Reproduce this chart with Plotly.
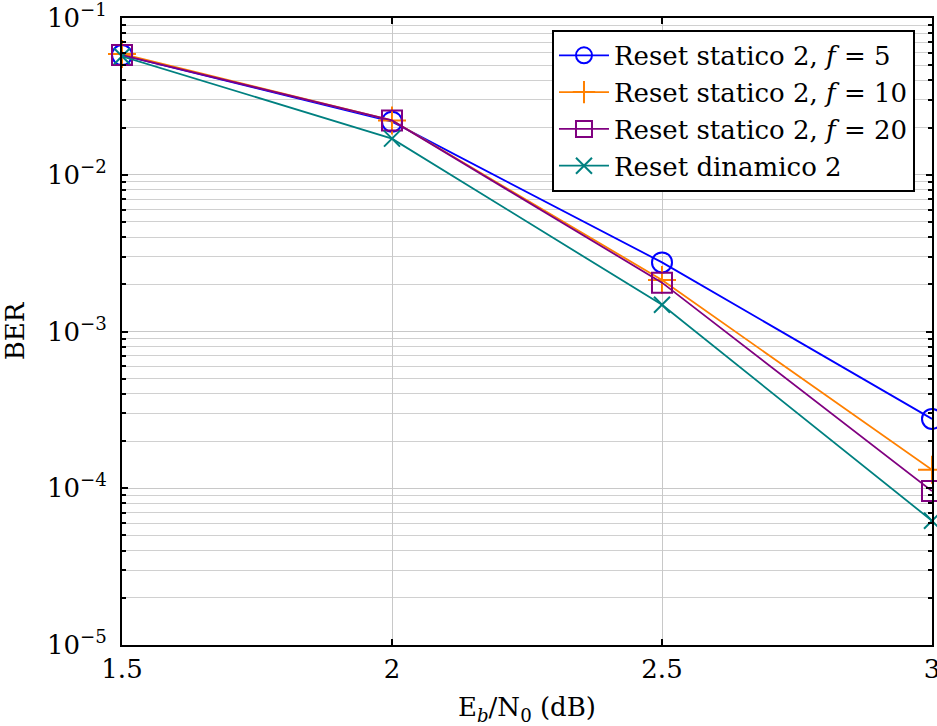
import plotly.graph_objects as go

x_vals = [1.5, 2.0, 2.5, 3.0]
ber_static_f5 = [0.058, 0.0218, 0.00276, 0.000277]
ber_static_f10 = [0.059, 0.0222, 0.00213, 0.000131]
ber_static_f20 = [0.058, 0.0222, 0.00205, 0.000096]
ber_dynamic = [0.057, 0.0170, 0.00148, 0.000062]

names = ["Reset statico 2, <i>f</i> = 5", "Reset statico 2, <i>f</i> = 10",
         "Reset statico 2, <i>f</i> = 20", "Reset dinamico 2"]
colors = ["#0000ff", "#ff8000", "#800080", "#008080"]
symbols = ["circle-open", "cross-thin-open", "square-open", "x-thin-open"]
sizes = [20, 20, 20, 16]
series = [ber_static_f5, ber_static_f10, ber_static_f20, ber_dynamic]

ytick_vals = [1e-5, 1e-4, 1e-3, 1e-2, 1e-1]
ytick_text = ["10<sup>−5</sup>", "10<sup>−4</sup>", "10<sup>−3</sup>", "10<sup>−2</sup>", "10<sup>−1</sup>"]
xtick_vals = [1.5, 2, 2.5, 3]
xtick_text = ["1.5", "2", "2.5", "3"]

minor_vals = [m * 10.0 ** e for e in range(-5, -1) for m in range(2, 10)]

fig = go.Figure()
for name, c, s, sz, y in zip(names, colors, symbols, sizes, series):
    fig.add_trace(go.Scatter(
        x=x_vals, y=y, name=name, mode="lines+markers",
        line=dict(color=c, width=1.8),
        marker=dict(symbol=s, size=sz, color=c, line=dict(color=c, width=2)),
        cliponaxis=False,
    ))

font = "DejaVu Serif"
fs = 26
fig.update_layout(
    width=937, height=726,
    margin=dict(l=122, r=5, t=18, b=81),
    paper_bgcolor="white", plot_bgcolor="white",
    font=dict(family=font, size=fs, color="black"),
    showlegend=True,
    legend=dict(x=0.979, y=0.981, xanchor="right", yanchor="top",
                bgcolor="white", bordercolor="black", borderwidth=2,
                font=dict(family=font, size=fs), tracegroupgap=0,
                itemwidth=50),
    xaxis=dict(range=[1.5, 3], tickvals=xtick_vals, ticktext=xtick_text,
               automargin=False, ticklabeloverflow="allow",
               showgrid=True, gridcolor="#c8c8c8", gridwidth=1,
               showline=True, linecolor="black", linewidth=2, mirror="allticks",
               ticks="inside", ticklen=6, tickcolor="black", tickwidth=1.5,
               zeroline=False, tickfont=dict(size=fs),
               title=dict(text="E<sub><i>b</i></sub>/N<sub>0</sub> (dB)", font=dict(size=fs))),
    yaxis=dict(type="log", range=[-5, -1], tickvals=ytick_vals, ticktext=ytick_text,
               automargin=False, ticklabeloverflow="allow",
               showgrid=True, gridcolor="#c8c8c8", gridwidth=1,
               showline=True, linecolor="black", linewidth=2, mirror="allticks",
               ticks="inside", ticklen=6, tickcolor="black", tickwidth=1.5,
               zeroline=False, tickfont=dict(size=fs), ticklabelstandoff=8,
               minor=dict(tickvals=minor_vals, ticks="inside", ticklen=4, tickcolor="black",
                          showgrid=True, gridcolor="#d0d0d0", gridwidth=1),
               title=dict(text="BER", font=dict(size=fs))),
)

fig.write_html("out.html", config={"displayModeBar": False},
               post_script="document.body.style.margin='0';document.body.style.overflow='hidden';")
